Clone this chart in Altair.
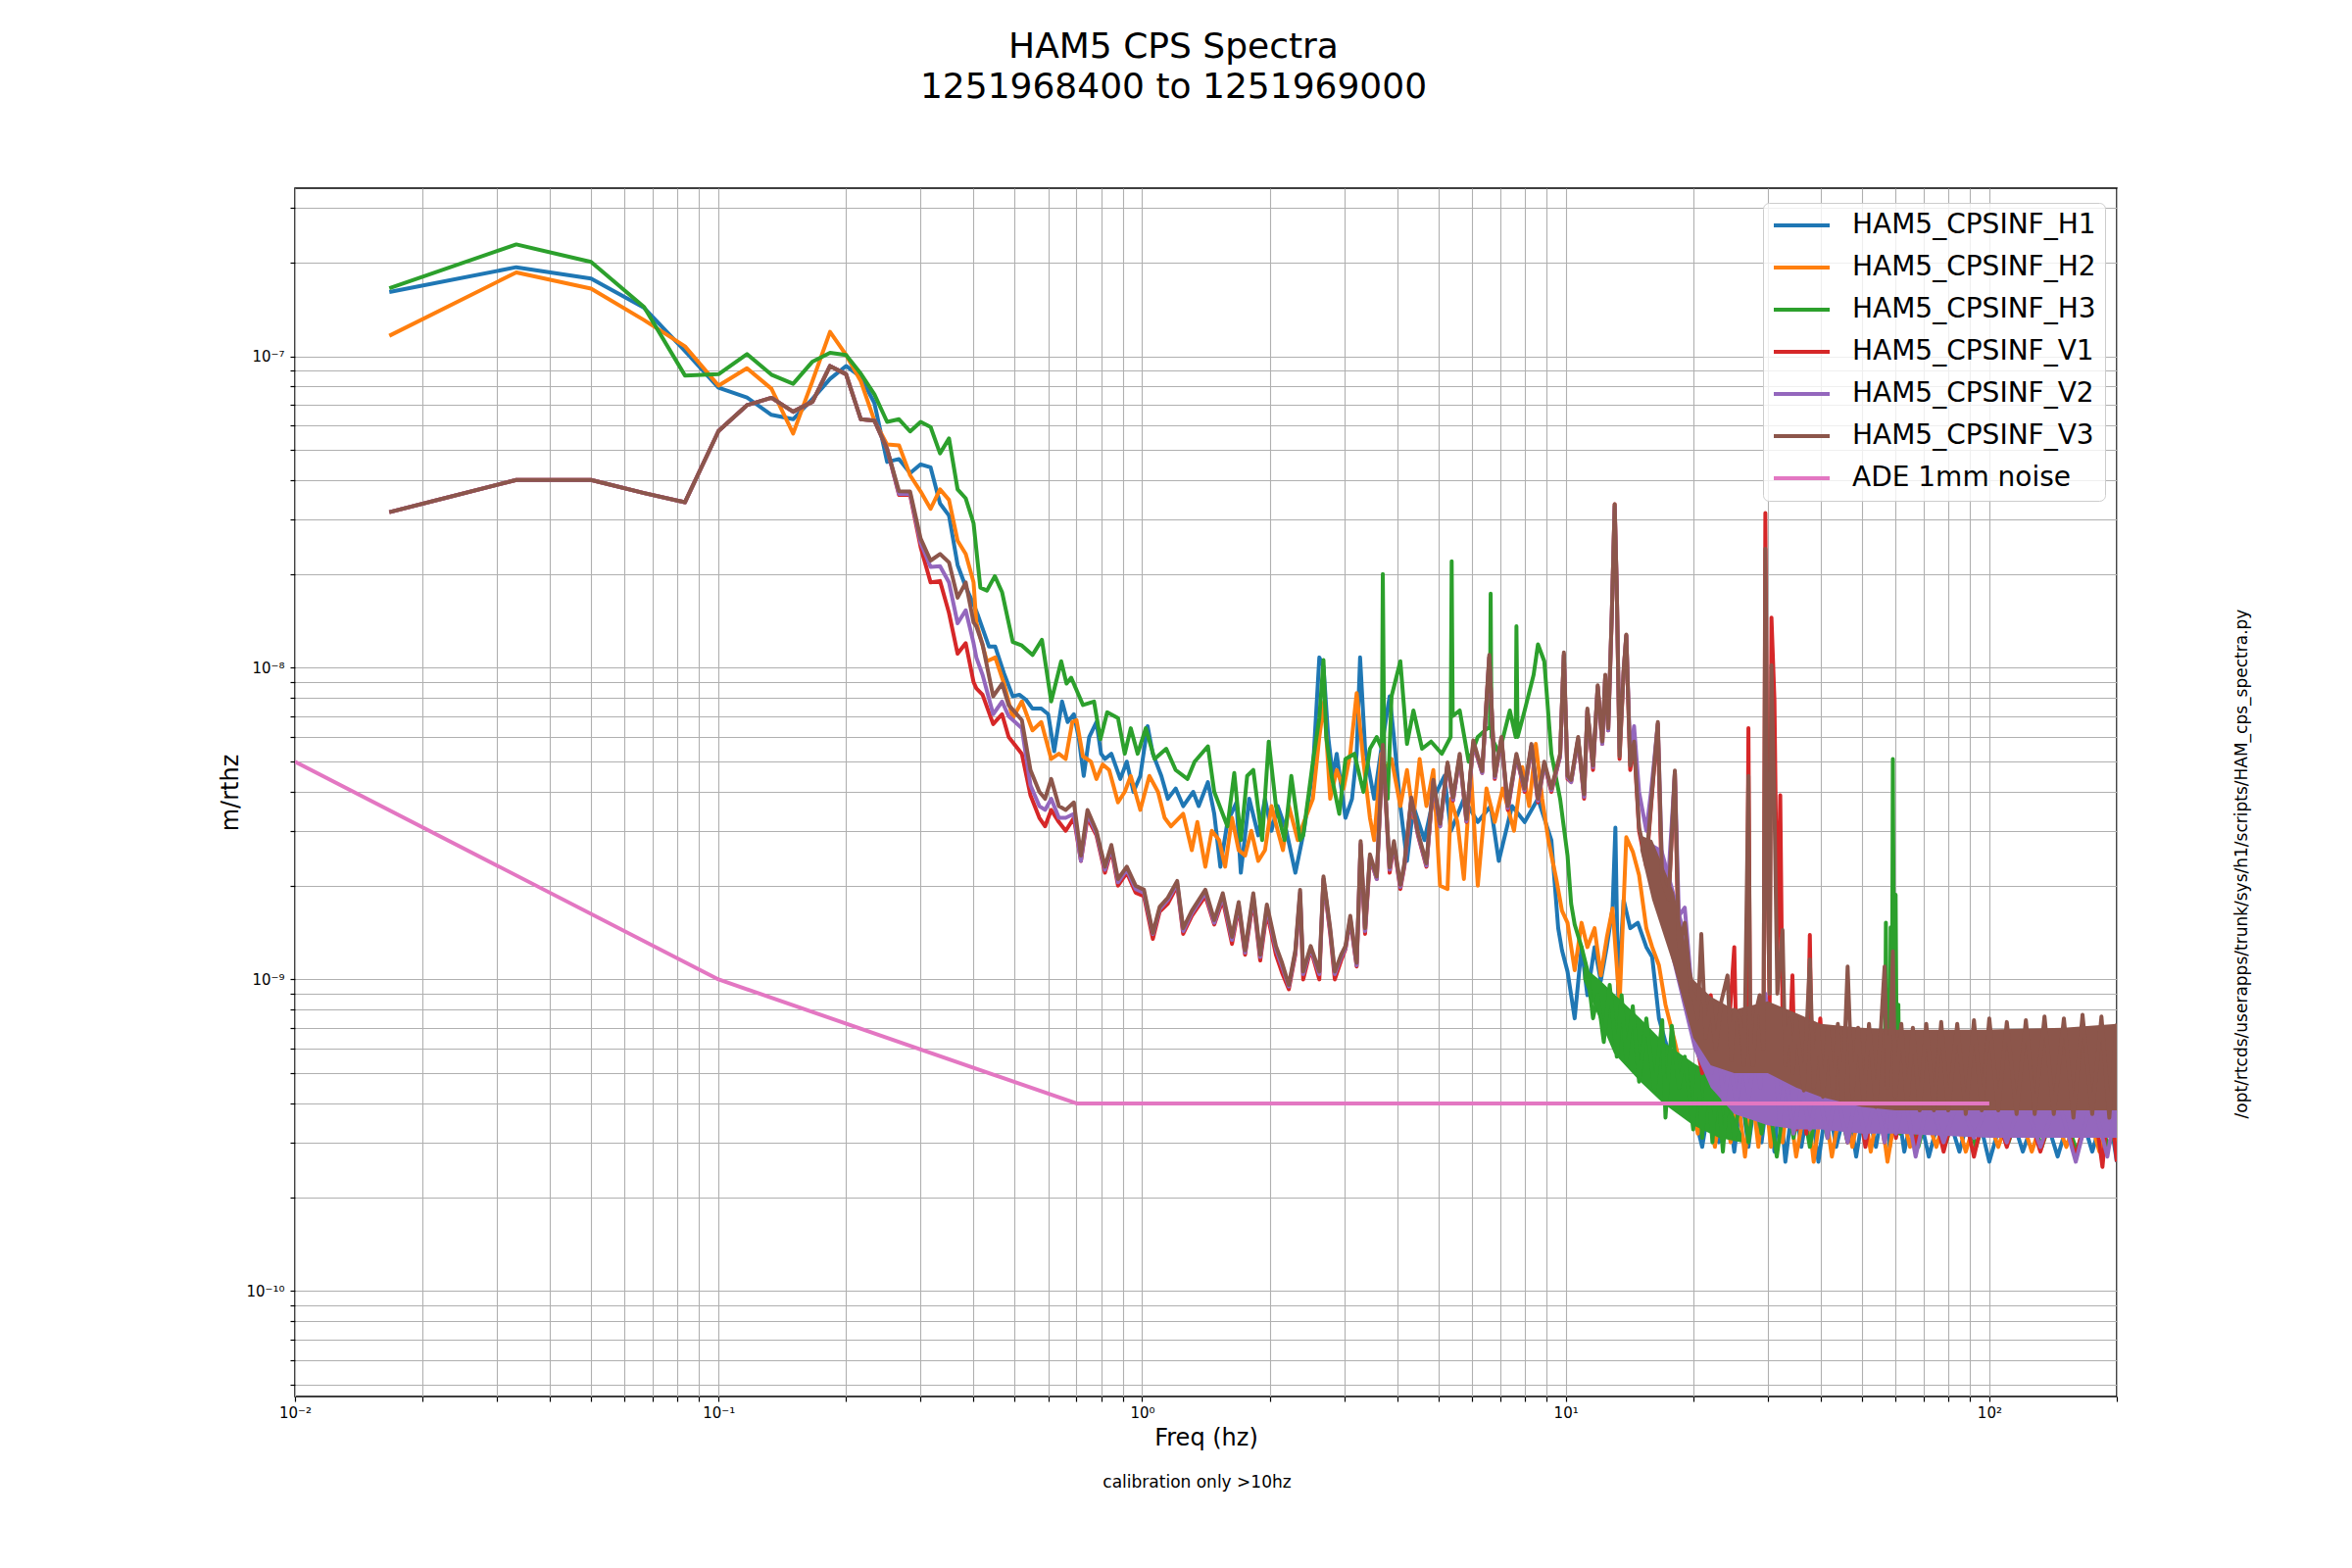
import altair as alt
import pandas as pd

# values are in units of 1e-10 m/rthz
UNIT = 1e-10

NAMES = ["HAM5_CPSINF_H1", "HAM5_CPSINF_H2", "HAM5_CPSINF_H3",
         "HAM5_CPSINF_V1", "HAM5_CPSINF_V2", "HAM5_CPSINF_V3", "ADE 1mm noise"]
COLORS = ["#1f77b4", "#ff7f0e", "#2ca02c", "#d62728", "#9467bd", "#8c564b", "#e377c2"]

# lowest FFT bins (Hz)
LOW_F = [0.0167, 0.0333, 0.05, 0.0667, 0.0833, 0.1, 0.1167, 0.1333, 0.15, 0.1667, 0.1833, 0.2,
         0.2167, 0.2333, 0.25, 0.2667, 0.2833, 0.3, 0.3167, 0.3333, 0.35, 0.3667, 0.3833, 0.4]
H1_LOW = [1607, 1932, 1777, 1431, 1040, 793, 738, 649, 628, 731, 846, 931,
          859, 708, 458, 468, 422, 450, 440, 337, 308, 214, 182, 160]
H2_LOW = [1164, 1859, 1650, 1307, 1077, 805, 916, 787, 565, 835, 1198, 1010,
          832, 622, 521, 518, 415, 368, 324, 374, 346, 256, 232, 188]
H3_LOW = [1655, 2286, 2009, 1440, 868, 876, 1016, 873, 816, 962, 1026, 1010,
          880, 755, 616, 628, 574, 616, 593, 488, 545, 374, 350, 291]
V1_LOW = [316, 401, 401, 364, 340, 576, 697, 736, 664, 715, 931, 876,
          628, 622, 504, 359, 359, 244, 188, 190, 150, 111, 120, 90]
V2_LOW = [316, 401, 401, 364, 340, 576, 697, 736, 664, 715, 931, 876,
          628, 622, 504, 362, 362, 252, 211, 212, 188, 139, 153, 120]
V3_LOW = [316, 401, 401, 364, 340, 576, 697, 736, 664, 715, 931, 876,
          628, 622, 504, 369, 368, 260, 221, 232, 218, 168, 188, 140]

H1_MID = [(0.41, 147), (0.435, 117), (0.45, 117), (0.472, 96), (0.495, 81), (0.513, 82), (0.532, 79),
          (0.551, 74), (0.578, 74), (0.6, 71), (0.62, 54), (0.647, 78), (0.667, 67), (0.69, 71),
          (0.708, 60), (0.728, 45), (0.75, 60), (0.78, 67), (0.8, 53), (0.817, 51), (0.846, 53),
          (0.888, 44), (0.92, 50), (0.954, 40), (0.99, 45), (1.03, 65), (1.06, 53), (1.11, 45),
          (1.15, 38), (1.2, 41), (1.25, 36), (1.32, 40), (1.36, 36), (1.43, 43), (1.48, 34),
          (1.53, 23), (1.59, 32), (1.67, 37), (1.71, 22), (1.79, 38), (1.88, 29), (1.95, 38),
          (2.02, 30), (2.09, 36), (2.19, 30), (2.3, 22), (2.41, 30), (2.53, 47), (2.62, 108),
          (2.68, 101), (2.75, 60), (2.82, 45), (2.88, 53), (3.02, 33), (3.13, 38), (3.21, 53),
          (3.27, 108), (3.36, 55), (3.53, 38), (3.67, 55), (3.84, 81), (3.93, 60), (4.07, 36),
          (4.22, 24), (4.37, 36), (4.64, 28), (4.87, 38), (5.17, 45), (5.36, 30), (5.75, 38),
          (6.2, 32), (6.65, 36), (6.95, 24), (7.47, 36), (8.0, 32), (8.6, 38), (9.25, 28),
          (9.6, 14.6), (9.8, 12.4), (10.1, 10.6), (10.5, 7.5), (10.9, 12.7), (11.25, 8.9),
          (11.7, 12.7), (12.1, 9.9), (12.5, 12.7), (12.9, 16.9), (13.1, 30.7), (13.3, 8.9),
          (13.7, 18), (14.2, 14.6), (14.8, 15.2), (15.5, 12.7), (16.0, 11.8), (16.6, 7.5),
          (17.2, 6.3), (18.1, 5.2), (19.1, 4.4)]

H2_MID = [(0.406, 140), (0.43, 105), (0.45, 108), (0.472, 89), (0.495, 69), (0.52, 78), (0.551, 63),
          (0.578, 67), (0.61, 51), (0.636, 53), (0.66, 51), (0.684, 67), (0.7, 68), (0.725, 52),
          (0.757, 50), (0.78, 44), (0.807, 49), (0.836, 47), (0.877, 37), (0.91, 40), (0.94, 45),
          (0.99, 35), (1.04, 45), (1.09, 40), (1.13, 33), (1.17, 31), (1.25, 34), (1.31, 26),
          (1.35, 32), (1.41, 23), (1.46, 30), (1.52, 28), (1.57, 23), (1.63, 33), (1.69, 26),
          (1.75, 25), (1.81, 30), (1.88, 24), (1.95, 26), (2.02, 36), (2.09, 30), (2.15, 26),
          (2.22, 36), (2.33, 28), (2.41, 32), (2.53, 38), (2.62, 60), (2.69, 78), (2.78, 38),
          (2.88, 47), (2.99, 41), (3.1, 53), (3.21, 83), (3.33, 50), (3.45, 33), (3.53, 28),
          (3.67, 53), (3.75, 47), (3.88, 51), (4.07, 36), (4.22, 47), (4.37, 33), (4.52, 51),
          (4.69, 36), (4.87, 47), (5.05, 20), (5.26, 19.5), (5.36, 38), (5.55, 32), (5.75, 21),
          (5.97, 47), (6.2, 20), (6.5, 41), (6.8, 32), (7.1, 41), (7.55, 30), (7.9, 48), (8.2, 36),
          (8.5, 57), (8.8, 38), (9.1, 28), (9.5, 21), (9.8, 16.6), (10.1, 15.2), (10.5, 10.7),
          (10.9, 15.2), (11.25, 12.7), (11.7, 14.6), (12.1, 10.3), (12.5, 13.6), (12.9, 16.9),
          (13.4, 8.3), (13.9, 28.6), (14.4, 25.7), (14.9, 21.6), (15.5, 14.6), (16.0, 12.7),
          (16.6, 11.1), (17.2, 8.3), (18.1, 6.3), (19.1, 4.6)]

H3_MID = [(0.415, 181), (0.43, 177), (0.449, 197), (0.467, 175), (0.495, 121), (0.52, 118), (0.551, 110),
          (0.58, 123), (0.61, 78), (0.644, 105), (0.663, 89), (0.68, 93), (0.725, 76), (0.77, 78),
          (0.797, 59), (0.827, 72), (0.877, 69), (0.91, 53), (0.94, 64), (0.976, 53), (1.02, 64),
          (1.07, 51), (1.14, 55), (1.2, 47), (1.28, 44), (1.33, 50), (1.43, 56), (1.48, 40),
          (1.59, 31), (1.65, 46), (1.71, 28), (1.77, 45), (1.83, 47), (1.92, 28), (1.99, 58),
          (2.07, 36), (2.17, 28), (2.25, 45), (2.36, 28), (2.4, 29), (2.53, 50), (2.62, 69),
          (2.68, 106), (2.72, 60), (2.8, 45), (2.92, 34), (3.02, 51), (3.17, 53), (3.33, 40),
          (3.45, 55), (3.58, 60), (3.68, 55), (3.7, 200), (3.73, 50), (3.8, 38), (3.88, 81),
          (4.07, 105), (4.22, 57), (4.37, 73), (4.58, 55), (4.81, 58), (5.1, 53), (5.35, 60),
          (5.38, 220), (5.41, 70), (5.62, 73), (5.9, 50), (6.2, 60), (6.62, 65), (6.65, 173),
          (6.68, 60), (6.96, 53), (7.38, 73), (7.62, 60), (7.65, 136), (7.7, 60), (8.0, 73),
          (8.4, 95), (8.6, 119), (8.9, 105), (9.25, 53), (9.7, 38), (10.1, 25), (10.3, 17.5),
          (10.5, 15), (10.9, 12.7), (11.25, 10.7), (11.6, 7.5), (11.9, 8.9), (12.3, 6.3),
          (12.7, 9.6), (13.2, 5.65), (13.55, 8.9), (13.9, 5.5), (14.4, 8.2), (14.9, 4.7),
          (15.5, 7.5), (16.2, 4.4), (16.9, 7.4), (17.2, 3.6), (17.8, 7.1), (18.5, 4.5), (19.1, 5.65)]

# shared frequency grid for the three vertical sensors, 0.4 - 20 Hz
V_MID_F = [0.406, 0.42, 0.445, 0.467, 0.484, 0.52, 0.545, 0.572, 0.59, 0.61,
           0.636, 0.66, 0.69, 0.717, 0.743, 0.78, 0.817, 0.846, 0.877, 0.92,
           0.965, 1.01, 1.06, 1.1, 1.15, 1.21, 1.25, 1.31, 1.41, 1.48,
           1.55, 1.63, 1.69, 1.75, 1.83, 1.9, 1.97, 2.07, 2.14, 2.22,
           2.3, 2.36, 2.4, 2.5, 2.62, 2.68, 2.78, 2.85, 2.95, 3.02,
           3.1, 3.21, 3.28, 3.36, 3.45, 3.58, 3.7, 3.84, 3.93, 4.07,
           4.16, 4.32, 4.48, 4.69, 4.87, 5.05, 5.26, 5.42, 5.62, 5.83,
           6.05, 6.35, 6.6, 6.8, 7.05, 7.3, 7.65, 8.0, 8.3, 8.6,
           8.9, 9.25, 9.7, 9.9, 10.1, 10.3, 10.7, 11.05, 11.25, 11.6,
           11.9, 12.2, 12.4, 12.6, 12.85, 13.05, 13.2, 13.4, 13.7, 13.9,
           14.2, 14.5, 14.9, 15.5, 15.9, 16.5, 16.9, 17.5, 18.1, 18.5, 19.1, 19.8]
V1_MID = [86, 82, 66, 71, 60, 53, 39, 33, 31, 35,
          32, 30, 33, 24, 33, 29, 22, 26, 20, 22,
          19, 18.5, 13.5, 16.5, 17.5, 20, 14, 16, 18.5, 15,
          18, 13, 17, 12, 18, 11.5, 16.5, 12, 10.5, 9.3,
          12, 18.5, 10, 12.5, 10, 21, 14, 10, 11.5, 12.5,
          15.5, 11, 27, 14, 24.5, 21, 55, 22, 27, 19.5,
          23, 37.5, 29, 23, 43, 31, 49, 37.5, 52, 32,
          57, 46, 108, 44, 59, 35, 52, 40, 56, 37,
          49, 40, 52, 110, 44, 43, 59, 38, 73, 47,
          87, 57, 94, 63, 148, 335, 178, 51, 97, 127,
          47, 57, 30, 23, 36, 66, 17, 18, 46, 11, 15, 8.6]
V2_MID = [108, 95, 71, 78, 70, 64, 42, 36, 35, 38,
          33, 33, 34, 24, 34, 29.5, 22.5, 26.5, 20.5, 22.5,
          19.5, 19, 14, 16.8, 18, 20.3, 14.3, 16.3, 19, 15.2,
          18.5, 13.4, 17.4, 12.2, 18.5, 11.8, 17, 12.5, 11, 9.5,
          12.2, 19, 10.4, 12.6, 10.4, 21, 14.3, 10.4, 11.8, 12.6,
          15.7, 11.1, 27.3, 14.3, 24.8, 21, 56, 22.5, 27.3, 19.8,
          23.2, 37.8, 29.2, 23.2, 43, 31, 49, 37.8, 52, 32.2,
          57.5, 46, 108, 44.5, 59, 35.5, 52, 40.5, 56, 37.5,
          49, 40.5, 52, 110, 44.5, 43, 59, 38.6, 73, 48,
          87, 57, 94, 63, 150, 330, 178, 55, 97, 127,
          52, 65, 40, 30, 40, 66, 22, 22, 46, 16, 17, 9.5]
V3_MID = [136, 119, 81, 89, 76, 68, 47, 40, 38, 44,
          36, 35, 37, 25, 35, 30, 23, 27, 21, 23,
          20, 19.4, 14.1, 17.1, 18.3, 20.7, 14.6, 16.6, 19.4, 15.5,
          18.9, 13.7, 17.7, 12.4, 18.9, 12.0, 17.4, 12.8, 11.3, 9.6,
          12.4, 19.4, 10.6, 12.8, 10.6, 21.4, 14.6, 10.6, 12.0, 12.8,
          16.0, 11.3, 27.8, 14.6, 25.2, 21.4, 56.6, 22.9, 27.8, 20.1,
          23.6, 38.4, 29.6, 23.6, 43.7, 31.6, 49.7, 38.4, 53, 32.7,
          58.5, 46.6, 110, 45, 60, 36, 53, 41, 57, 38,
          50, 41, 53, 112, 45, 43.7, 60, 39.3, 74, 48.6,
          88, 58, 95, 64, 150, 335, 179, 52, 98, 128,
          48.6, 58, 30.7, 24, 36.6, 67, 20.8, 18.1, 46.8, 12.7, 15.2, 8.9]

# 20 - 200 Hz
H1_HI = [(20.0, 3.8), (21.0, 2.9), (22.0, 4.3), (23.0, 3.0), (24.1, 4.2), (25.0, 2.8), (26.0, 4.3),
         (27.0, 2.9), (28.0, 4.2), (29.0, 3.0), (30.1, 4.5), (31.1, 2.8), (32.0, 4.3), (33.0, 2.6),
         (34.5, 4.2), (36.0, 2.9), (37.7, 4.2), (39.5, 2.6), (41.5, 4.2), (43.5, 2.9), (46.3, 4.1),
         (48.5, 2.7), (51.0, 4.1), (54.0, 2.9), (56.6, 4.2), (58.2, 2.9), (60.2, 4.3), (63.0, 2.8),
         (67.0, 4.2), (72.0, 2.7), (78.0, 4.1), (85.0, 2.8), (92.0, 4.2), (100.0, 2.6), (110.0, 4.1),
         (120.0, 2.8), (132.0, 4.1), (145.0, 2.7), (160.0, 4.2), (175.0, 2.8), (190.0, 4.1), (200.0, 2.6)]
H2_HI = [(20.0, 4.0), (20.5, 3.2), (21.5, 4.4), (22.5, 2.9), (23.5, 4.3), (24.5, 3.0), (25.5, 4.2),
         (26.5, 2.7), (27.5, 4.4), (28.5, 2.9), (29.5, 4.6), (30.5, 2.9), (31.5, 4.3), (32.5, 3.0),
         (33.5, 4.2), (35.0, 2.7), (37.0, 4.2), (38.5, 2.6), (40.5, 4.3), (42.5, 2.7), (45.0, 4.2),
         (47.5, 2.9), (50.0, 4.2), (52.5, 2.8), (55.0, 4.1), (57.5, 2.6), (61.0, 4.2), (65.0, 2.9),
         (69.0, 4.1), (75.0, 2.9), (81.0, 4.2), (88.0, 2.8), (96.0, 4.1), (105.0, 2.9), (115.0, 4.2),
         (126.0, 2.8), (138.0, 4.1), (152.0, 2.9), (167.0, 4.2), (182.0, 2.8), (196.0, 4.2), (200.0, 3.0)]
H3_HI = [(20.0, 3.3), (20.5, 5.2), (21.0, 3.1), (21.6, 5.0), (22.2, 3.0), (22.8, 4.8), (23.5, 2.8),
         (24.2, 4.6), (25.0, 3.1), (26.0, 4.5), (27.0, 3.0), (28.0, 4.4), (29.0, 3.2), (30.0, 4.3),
         (31.5, 2.7), (33.0, 4.3), (34.5, 3.1), (36.0, 4.2), (37.7, 2.9), (39.5, 4.2), (41.5, 3.1),
         (43.5, 4.3), (46.3, 3.0), (48.5, 4.2), (51.0, 3.0), (54.0, 4.2), (56.6, 3.2), (57.0, 15.2),
         (57.4, 4.5), (58.2, 4.0), (58.5, 14.7), (58.9, 6.0), (59.2, 51), (59.6, 8.0), (60.1, 18.7),
         (60.5, 4.5), (61.0, 8.3), (61.5, 3.2), (64.0, 4.2), (68.0, 2.9), (73.0, 4.2), (79.0, 3.0),
         (86.0, 4.2), (93.0, 2.9), (101.0, 4.2), (111.0, 3.0), (121.0, 4.2), (133.0, 2.9),
         (146.0, 4.2), (161.0, 2.8), (176.0, 4.2), (191.0, 2.9), (200.0, 3.5)]
V1_HI = [(20.0, 7), (21.0, 5), (22.0, 8.9), (23.0, 4.5), (24.1, 6), (25.0, 12.7), (25.4, 4.5),
         (26.0, 5.5), (26.7, 4.5), (27.0, 64), (27.3, 4.5), (28.0, 4.0), (29.0, 7), (29.3, 5),
         (29.6, 314), (30.0, 20), (30.3, 8), (30.6, 145), (31.1, 79), (31.6, 12), (32.1, 39),
         (32.6, 5), (33.3, 3.5), (34.3, 10.3), (35.0, 3.3), (36.0, 5), (37.0, 3.2), (37.7, 13.9),
         (38.3, 3.5), (39.9, 7.5), (41.5, 3.2), (43.5, 5), (46.3, 3.0), (48.5, 4.5), (51.0, 2.9),
         (54.0, 4.4), (56.6, 3.0), (58.2, 4.3), (60.2, 3.1), (63.0, 4.4), (67.0, 2.9), (72.0, 4.5),
         (78.0, 2.8), (85.0, 4.4), (92.0, 2.7), (100.0, 4.4), (110.0, 2.9), (120.0, 4.3),
         (132.0, 2.8), (145.0, 4.3), (160.0, 2.7), (175.0, 4.4), (185.0, 2.5), (192.0, 4.4), (200.0, 2.6)]
V2_HI = [(20.0, 8), (20.7, 6), (21.4, 7), (22.1, 5), (22.8, 6.5), (23.6, 4), (24.4, 5.5), (25.3, 4.0),
         (26.2, 5.5), (27.1, 4.2), (28.0, 6), (28.8, 4.5), (29.6, 9), (30.1, 7.5), (30.6, 5), (31.1, 6),
         (32.0, 3.5), (33.0, 5), (34.5, 3.2), (36.0, 4.5), (37.7, 3.3), (39.5, 4.5), (41.5, 3.1),
         (43.5, 4.4), (46.3, 3.0), (48.5, 4.3), (51.0, 3.1), (54.0, 4.2), (56.6, 3.0), (58.2, 4.3),
         (59.2, 5), (60.2, 3.2), (63.0, 4.3), (67.0, 2.7), (72.0, 4.2), (78.0, 3.0), (85.0, 4.2),
         (92.0, 3.1), (100.0, 4.1), (110.0, 3.0), (120.0, 4.2), (132.0, 2.9), (145.0, 4.2),
         (160.0, 2.6), (175.0, 4.2), (190.0, 2.7), (200.0, 4.1)]
V3_HI = [(20.0, 9), (20.5, 7.5), (20.9, 14), (21.4, 6.5), (22.0, 8.5), (22.6, 6.0), (23.3, 8.5),
         (24.1, 10.3), (24.6, 5.5), (25.0, 8.0), (25.8, 7.5), (26.4, 5.3), (27.0, 45), (27.3, 6),
         (27.7, 5.3), (28.2, 8.0), (28.7, 8.9), (29.3, 6), (29.6, 241), (30.0, 18), (30.3, 9),
         (30.6, 102), (31.1, 36), (31.6, 9), (32.5, 14.4), (33.0, 5.3), (33.7, 7.5), (34.4, 5.0),
         (35.0, 7.5), (36.5, 4.4), (37.7, 11.6), (38.5, 4.5), (39.4, 7.0), (40.5, 4.2), (41.6, 7.0),
         (42.8, 4.2), (43.9, 7.2), (45.0, 4.0), (46.3, 11.0), (47.5, 4.2), (49.0, 7.0), (50.5, 4.0),
         (52.0, 7.2), (54.0, 3.9), (55.5, 7.0), (56.6, 11.0), (57.5, 4.5), (58.5, 7.0), (59.2, 12.3),
         (60.0, 4.2), (62.0, 7.2), (64.0, 3.9), (66.0, 7.0), (68.5, 3.8), (71.0, 7.2), (74.0, 3.8),
         (77.0, 7.3), (80.0, 3.8), (84.0, 7.2), (88.0, 3.7), (92.0, 7.4), (96.0, 3.8), (100.0, 7.5),
         (105.0, 3.8), (110.0, 7.3), (116.0, 3.7), (122.0, 7.4), (128.0, 3.7), (135.0, 7.6),
         (142.0, 3.7), (150.0, 7.5), (158.0, 3.6), (166.0, 7.7), (175.0, 3.7), (184.0, 7.6),
         (192.0, 3.6), (200.0, 7.2)]

# envelopes of the dense-noise regions
H3_BAND_F = [11, 12, 13, 15, 17, 20, 23, 26]
H3_BAND_LO = [10, 7.5, 5.8, 4.7, 4.0, 3.4, 3.1, 3.0]
H3_BAND_HI = [11, 10, 9.0, 7.5, 6.3, 5.4, 4.8, 3.2]
V2_BAND_F = [15.5, 17, 19, 20, 22, 25, 30, 35, 40, 50, 60, 100, 150, 200]
V2_BAND_LO = [26, 15, 8.0, 6.0, 4.5, 3.7, 3.4, 3.3, 3.3, 3.2, 3.2, 3.1, 3.1, 3.1]
V2_BAND_HI = [28, 26, 15, 9.0, 7.0, 6.0, 7.5, 6.0, 5.5, 5.0, 5.0, 5.0, 5.0, 5.0]
V3_BAND_F = [15, 16, 18, 20, 22, 25, 30, 35, 40, 50, 60, 100, 150, 200]
V3_BAND_LO = [26, 18, 11, 6.5, 5.3, 5.0, 5.0, 4.5, 4.2, 3.9, 3.8, 3.8, 3.8, 3.8]
V3_BAND_HI = [29, 28, 19, 10, 8.8, 8.0, 8.5, 7.8, 7.2, 7.0, 6.9, 6.9, 7.0, 7.2]

ADE = [(0.01, 50), (0.1, 10), (0.7, 4), (100, 4)]

# ---------------------------------------------------------------
def frame(name, pairs):
    return pd.DataFrame({"f": [p[0] for p in pairs],
                         "v": [p[1] * UNIT for p in pairs],
                         "series": name})

series_pairs = {
    NAMES[0]: list(zip(LOW_F, H1_LOW)) + H1_MID + H1_HI,
    NAMES[1]: list(zip(LOW_F, H2_LOW)) + H2_MID + H2_HI,
    NAMES[2]: list(zip(LOW_F, H3_LOW)) + H3_MID + H3_HI,
    NAMES[3]: list(zip(LOW_F, V1_LOW)) + list(zip(V_MID_F, V1_MID)) + V1_HI,
    NAMES[4]: list(zip(LOW_F, V2_LOW)) + list(zip(V_MID_F, V2_MID)) + V2_HI,
    NAMES[5]: list(zip(LOW_F, V3_LOW)) + list(zip(V_MID_F, V3_MID)) + V3_HI,
    NAMES[6]: ADE,
}

def band(fs, lo, hi):
    return pd.DataFrame({"f": fs, "lo": [v * UNIT for v in lo], "hi": [v * UNIT for v in hi]})

W, H = 1859, 1233
XDOM = [0.01, 200]
YDOM = [4.585e-11, 3.465e-7]
XTICKS = [round(m * 10.0 ** k, 6) for k in range(-2, 3) for m in range(1, 10) if m * 10.0 ** k <= 200]
YTICKS = [float(f"{m}e{k}") for k in range(-11, -6) for m in range(1, 10)
          if YDOM[0] <= float(f"{m}e{k}") <= YDOM[1]]

E = "round(log(datum.value)/LN10)"
SUP = "''+" + E
for a, b in [("-", "⁻"), ("0", "⁰"), ("1", "¹"), ("2", "²"), ("3", "³"), ("4", "⁴"),
             ("5", "⁵"), ("6", "⁶"), ("7", "⁷"), ("8", "⁸"), ("9", "⁹")]:
    SUP = f"replace({SUP}, '{a}', '{b}')"
LABEL_EXPR = f"abs(log(datum.value)/LN10 - {E}) > 0.001 ? '' : '10' + {SUP}"

FONT = "DejaVu Sans"
LW = 4
xscale = alt.Scale(type="log", domain=XDOM, nice=False)
yscale = alt.Scale(type="log", domain=YDOM, nice=False)

x_axis = alt.Axis(values=XTICKS, labelExpr=LABEL_EXPR, title="Freq (hz)", titleFontSize=24,
                  titleY=42, titleBaseline="middle", labelFontSize=15, labelPadding=4,
                  tickSize=5, tickColor="black", tickWidth=1.2, grid=True, gridColor="#b0b0b0",
                  gridWidth=1.1, domain=False, labelOverlap=False, labelFlush=False,
                  labelColor="black", titleColor="black", titleFont=FONT, labelFont=FONT,
                  titleFontWeight="normal")
y_axis = alt.Axis(values=YTICKS, labelExpr=LABEL_EXPR, title="m/rthz", titleFontSize=24,
                  titleX=-66, titleY=H / 2, titleAngle=270, titleBaseline="middle", titleAlign="center",
                  labelFontSize=15, labelPadding=6, tickSize=5, tickColor="black", tickWidth=1.2,
                  grid=True, gridColor="#b0b0b0", gridWidth=1.1, domain=False, labelOverlap=False,
                  labelFlush=False, labelColor="black", titleColor="black", titleFont=FONT,
                  labelFont=FONT, titleFontWeight="normal")

X = alt.X("f:Q", scale=xscale, axis=x_axis)
legend = alt.Legend(title=None, orient="none", legendX=1498, legendY=15, symbolType="stroke",
                    symbolSize=3249, symbolStrokeWidth=3.8, labelFontSize=28, labelFont=FONT,
                    labelColor="black", padding=9, rowPadding=15, clipHeight=28, labelOffset=21,
                    labelLimit=0, strokeColor="#cccccc", fillColor="rgba(255,255,255,0.8)",
                    cornerRadius=6, symbolOpacity=1)
COLOR = alt.Color("series:N", scale=alt.Scale(domain=NAMES, range=COLORS), legend=legend)

def line(name):
    return alt.Chart(frame(name, series_pairs[name])).mark_line(
        strokeWidth=LW, clip=True, strokeJoin="round").encode(
        x=X, y=alt.Y("v:Q", scale=yscale, axis=y_axis), color=COLOR)

def area(fs, lo, hi, color):
    return alt.Chart(band(fs, lo, hi)).mark_area(clip=True, color=color, opacity=1).encode(
        x=X, y=alt.Y("lo:Q", scale=yscale, axis=y_axis), y2="hi:Q")

main = alt.layer(
    line(NAMES[0]), line(NAMES[1]),
    area(H3_BAND_F, H3_BAND_LO, H3_BAND_HI, COLORS[2]), line(NAMES[2]),
    line(NAMES[3]),
    area(V2_BAND_F, V2_BAND_LO, V2_BAND_HI, COLORS[4]), line(NAMES[4]),
    area(V3_BAND_F, V3_BAND_LO, V3_BAND_HI, COLORS[5]), line(NAMES[5]),
    line(NAMES[6]),
)

top_axis = alt.Axis(orient="top", title="calibration only >10hz", titleFontSize=17, titleX=920,
                    titleY=1320, titleBaseline="middle", titleAlign="center", labels=False,
                    ticks=False, domain=False, grid=False, titleFont=FONT, titleColor="black",
                    titleFontWeight="normal")
right_axis = alt.Axis(orient="right", title="/opt/rtcds/userapps/trunk/sys/h1/scripts/HAM_cps_spectra.py",
                      titleFontSize=17, titleX=127, titleY=689, titleAngle=270, titleBaseline="middle",
                      titleAlign="center", labels=False, ticks=False, domain=False, grid=False,
                      titleFont=FONT, titleColor="black", titleFontWeight="normal")
annot = alt.Chart(frame(NAMES[6], ADE)).mark_point(opacity=0).encode(
    x=alt.X("f:Q", scale=xscale, axis=top_axis),
    y=alt.Y("v:Q", scale=yscale, axis=right_axis))

chart = alt.layer(main, annot).resolve_axis(x="independent", y="independent").properties(
    width=W, height=H,
    autosize=alt.AutoSizeParams(type="none"),
    padding={"left": 293, "top": 184, "right": 2384 - 293 - W, "bottom": 1584 - 184 - H},
    title=alt.TitleParams(text=["HAM5 CPS Spectra", "1251968400 to 1251969000"], fontSize=36,
                          font=FONT, fontWeight="normal", color="black", anchor="middle",
                          dx=-33, offset=84, lineHeight=41),
    background="white",
).configure_view(stroke="black", strokeWidth=1.5)

chart.save("out.html", embed_options={"renderer": "svg", "actions": False})
